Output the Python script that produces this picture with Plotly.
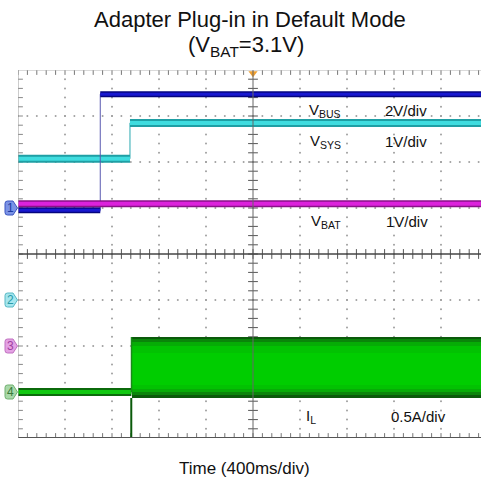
import numpy as np
import plotly.graph_objects as go

# ---------------- data (physical units) ----------------
# time in seconds relative to the trigger (centre of screen), 400 ms/div
t_start, t_end = -2.0, 1.94
# VBUS, channel 1, 2 V/div
vbus_t = [-2.0, -1.30, -1.30, 1.94]
vbus_v = [-0.10, -0.10, 4.95, 4.95]
# VSYS, channel 2, 1 V/div
vsys_t = [-2.0, -1.047, -1.047, 1.94]
vsys_v = [3.07, 3.07, 3.85, 3.85]
# VBAT, channel 3, 1 V/div
vbat_t = [-2.0, 1.94]
vbat_v = [3.09, 3.09]
# IL, channel 4, 0.5 A/div
il_t_low = [-2.0, -1.035]
il_low = [0.0, 0.0]
il_step_t = -1.03
il_band_top = 0.598
il_band_bot = -0.065
il_spike_t = [-1.036, -1.036]
il_spike = [-0.065, -0.5]

channels = ["1", "2", "3", "4"]
ch_scale = [2.0, 1.0, 1.0, 0.5]      # units per division
ch_offset = [1.0, -1.0, -2.0, -3.0]   # ground marker position (div)
ch_tag_fill = ["#7b93e6", "#a4e6ee", "#e4a2e4", "#a8d8a8"]
ch_tag_line = ["#3a55c0", "#58b8c4", "#c070c0", "#70b070"]
ch_tag_text = ["#1c3aa0", "#2a9aa8", "#a040a0", "#3a7a3a"]

labels = ["V<sub>BUS</sub>", "V<sub>SYS</sub>", "V<sub>BAT</sub>", "I<sub>L</sub>"]
scales_txt = ["2V/div", "1V/div", "1V/div", "0.5A/div"]

def to_div(vals, ch):
    return [v / ch_scale[ch] + ch_offset[ch] for v in vals]

W, H = 481, 492
L, T, B = 18, 70, 54
plot_w = W - L
plot_h = H - T - B
t_per_div = 0.4
x_range = [t_start, t_start + plot_w / 47.0 * t_per_div]
px_per_div_y = plot_h / 8.0

def px_to_paper_x(px):
    return (px - L) / plot_w

def px_to_paper_y(py):
    return (T + plot_h - py) / plot_h

fig = go.Figure()

# ---------------- graticule ----------------
minor_x = np.arange(-2.0, x_range[1] + 1e-9, 0.08)
minor_y = np.arange(-4.0, 4.0 + 1e-9, 0.2)
major_x = [v for v in np.arange(-1.6, x_range[1], 0.4) if abs(v) > 1e-6]
major_y = [v for v in range(-3, 4) if v != 0]

gx, gy = [], []
for mx in major_x:
    for my in minor_y:
        gx.append(mx); gy.append(my)
for my in major_y:
    for mx in minor_x:
        gx.append(mx); gy.append(my)
fig.add_trace(go.Scatter(x=gx, y=gy, mode="markers",
                         marker=dict(size=2, color="#a0a0a0"), hoverinfo="skip"))

# centre cross lines
fig.add_shape(type="line", x0=0, x1=0, y0=-4, y1=4, line=dict(color="#666", width=1))
fig.add_shape(type="line", x0=x_range[0], x1=x_range[1], y0=0, y1=0,
              line=dict(color="#444", width=1.5))
# borders
fig.add_shape(type="line", xref="paper", x0=0, x1=1, y0=4, y1=4, line=dict(color="#b5b5b5", width=1))
fig.add_shape(type="line", xref="paper", x0=0, x1=1, y0=-4, y1=-4, line=dict(color="#555", width=2.2))
fig.add_shape(type="line", x0=x_range[0], x1=x_range[0], y0=-4, y1=4, line=dict(color="#999", width=1))

# tick marks on centre lines and borders
fig.add_trace(go.Scatter(x=[0] * len(minor_y), y=minor_y, mode="markers",
                         marker=dict(symbol="line-ew", size=7, line=dict(width=1, color="#555")),
                         hoverinfo="skip"))
fig.add_trace(go.Scatter(x=minor_x, y=[0] * len(minor_x), mode="markers",
                         marker=dict(symbol="line-ns", size=7, line=dict(width=1, color="#555")),
                         hoverinfo="skip"))
fig.add_trace(go.Scatter(x=list(minor_x) * 2, y=[4] * len(minor_x) + [-4] * len(minor_x), mode="markers",
                         marker=dict(symbol="line-ns", size=7, line=dict(width=1, color="#777")),
                         hoverinfo="skip"))
fig.add_trace(go.Scatter(x=[x_range[0]] * len(minor_y), y=minor_y, mode="markers",
                         marker=dict(symbol="line-ew", size=7, line=dict(width=1, color="#888")),
                         hoverinfo="skip"))

# ---------------- waveforms ----------------
def step_segments(ts, vs):
    xs, ys = [], []
    for i in range(0, len(ts) - 1):
        if ts[i] != ts[i + 1]:
            xs += [ts[i], ts[i + 1], None]
            ys += [vs[i], vs[i + 1], None]
    return xs, ys

def add_wave(ts, vs, ch, outer, inner, w_out, w_in, edge):
    yd = to_div(vs, ch)
    fig.add_trace(go.Scatter(x=ts, y=yd, mode="lines", line=dict(color=edge, width=1),
                             hoverinfo="skip"))
    sx, sy = step_segments(ts, yd)
    fig.add_trace(go.Scatter(x=sx, y=sy, mode="lines", line=dict(color=outer, width=w_out),
                             hoverinfo="skip"))
    fig.add_trace(go.Scatter(x=sx, y=sy, mode="lines", line=dict(color=inner, width=w_in),
                             hoverinfo="skip"))

add_wave(vsys_t, vsys_v, 1, "#1f9fa4", "#3fdcdf", 8, 4, "#2aa8b0")
add_wave(vbus_t, vbus_v, 0, "#05057e", "#1818d0", 6, 3, "#5858b0")
add_wave(vbat_t, vbat_v, 2, "#8a1088", "#dc22dc", 7, 4, "#b040b0")

# IL
low_d = to_div(il_low, 3)
fig.add_trace(go.Scatter(x=il_t_low, y=low_d, mode="lines", line=dict(color="#0b6a0b", width=8),
                         hoverinfo="skip"))
fig.add_trace(go.Scatter(x=il_t_low, y=low_d, mode="lines", line=dict(color="#10c810", width=4),
                         hoverinfo="skip"))
top_d = to_div([il_band_top], 3)[0]
bot_d = to_div([il_band_bot], 3)[0]
# switching-ripple envelope drawn as layered fills (dark edges, bright core)
band_layers = [(0, 0, "#0a5a0a"), (2, 3, "#0a850a"), (5, 6, "#06ac06"),
               (9, 9, "#02c202"), (16, 13, "#00cd00")]
for inset_top, inset_bot, col in band_layers:
    yt = top_d - inset_top / px_per_div_y
    yb = bot_d + inset_bot / px_per_div_y
    fig.add_trace(go.Scatter(x=[il_step_t, x_range[1], x_range[1], il_step_t, il_step_t],
                             y=[yt, yt, yb, yb, yt], mode="lines", fill="toself",
                             fillcolor=col, line=dict(color=col, width=0),
                             hoverinfo="skip"))
fig.add_trace(go.Scatter(x=il_spike_t, y=to_div(il_spike, 3), mode="lines",
                         line=dict(color="#0a5a0a", width=2), hoverinfo="skip"))
fig.add_trace(go.Scatter(x=[il_step_t - 0.004, il_step_t - 0.004], y=[low_d[0], top_d], mode="lines",
                         line=dict(color="#1a8a1a", width=1.5), hoverinfo="skip"))

# trigger marker
fig.add_trace(go.Scatter(x=[0], y=[3.93], mode="markers", cliponaxis=False,
                         marker=dict(symbol="triangle-down", size=8, color="#f0a030"),
                         hoverinfo="skip"))

# ---------------- channel tags ----------------
annotations = []
for i, ch in enumerate(channels):
    yc = ch_offset[i]
    hh = 7.0 / px_per_div_y
    r = 2.5 / px_per_div_y
    x0, xr, x1, x2 = px_to_paper_x(5), px_to_paper_x(7.5), px_to_paper_x(13), px_to_paper_x(17.5)
    path = (f"M {xr},{yc + hh} L {x1},{yc + hh} L {x2},{yc} L {x1},{yc - hh} "
            f"L {xr},{yc - hh} Q {x0},{yc - hh} {x0},{yc - hh + r} L {x0},{yc + hh - r} "
            f"Q {x0},{yc + hh} {xr},{yc + hh} Z")
    fig.add_shape(type="path", xref="paper", yref="y", path=path,
                  fillcolor=ch_tag_fill[i], line=dict(color=ch_tag_line[i], width=1))
    annotations.append(dict(xref="paper", yref="y", x=px_to_paper_x(10.5), y=yc, text=ch,
                            showarrow=False, xanchor="center", yanchor="middle",
                            font=dict(size=12, color=ch_tag_text[i],
                                      family="Liberation Sans")))

# ---------------- labels ----------------
lab_y = [3.13, 2.44, 0.70, -3.54]
lab_x = [0.46, 0.47, 0.475, 0.43]
sc_x = [1.105, 1.11, 1.115, 1.16]
for i in range(4):
    annotations.append(dict(x=lab_x[i], y=lab_y[i], text=labels[i], showarrow=False,
                            xanchor="left", yanchor="middle",
                            font=dict(size=15, color="#111", family="Liberation Sans")))
    annotations.append(dict(x=sc_x[i], y=lab_y[i], text=scales_txt[i], showarrow=False,
                            xanchor="left", yanchor="middle",
                            font=dict(size=15, color="#111", family="Liberation Sans")))

annotations.append(dict(xref="paper", yref="paper", x=px_to_paper_x(250), y=px_to_paper_y(20),
                        text="Adapter Plug-in in Default Mode", showarrow=False,
                        xanchor="center", yanchor="middle",
                        font=dict(size=22, color="#111", family="Liberation Sans")))
annotations.append(dict(xref="paper", yref="paper", x=px_to_paper_x(246), y=px_to_paper_y(46),
                        text="(V<sub>BAT</sub>=3.1V)", showarrow=False,
                        xanchor="center", yanchor="middle",
                        font=dict(size=22, color="#111", family="Liberation Sans")))
annotations.append(dict(xref="paper", yref="paper", x=px_to_paper_x(244), y=px_to_paper_y(468),
                        text="Time (400ms/div)", showarrow=False,
                        xanchor="center", yanchor="middle",
                        font=dict(size=17, color="#111", family="Liberation Sans")))

fig.update_layout(
    width=W, height=H,
    margin=dict(l=L, r=0, t=T, b=B),
    paper_bgcolor="white", plot_bgcolor="white",
    showlegend=False,
    xaxis=dict(range=x_range, showgrid=False, zeroline=False, showticklabels=False,
               ticks="", showline=False, fixedrange=True),
    yaxis=dict(range=[-4, 4], showgrid=False, zeroline=False, showticklabels=False,
               ticks="", showline=False, fixedrange=True),
    annotations=annotations,
)

fig.write_html("out.html")
